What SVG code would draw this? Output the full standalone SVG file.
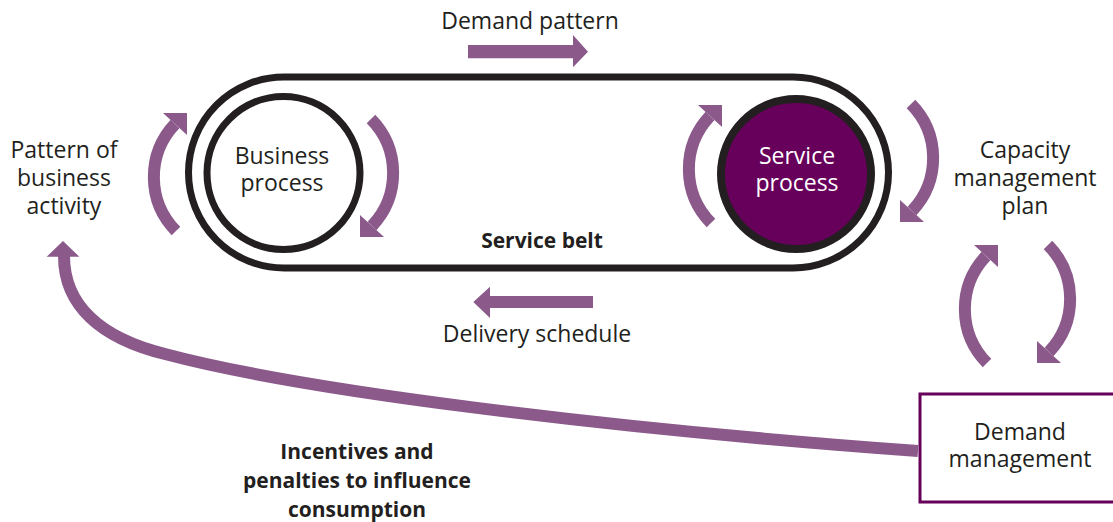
<svg xmlns="http://www.w3.org/2000/svg" xmlns:xlink="http://www.w3.org/1999/xlink" width="1113" height="522" viewBox="0 0 1113 522">
<style>
.t{font-family:"Open Sans","Noto Sans","Liberation Sans",sans-serif;font-size:23px;fill:#231f20;text-anchor:middle}
.b{font-weight:bold;font-size:21px}
.w{fill:#ffffff}
.arc{fill:none;stroke:#8b5a8b;stroke-width:12;stroke-linecap:butt}
.hd{fill:#8b5a8b;stroke:none}
.ring{fill:none;stroke:#231f20}
</style>
<defs>
<g id="curl">
<path class="arc" d="M8,57 A77,77 0 0 1 7,-50"/>
<polygon class="hd" points="-5,-61 19,-61 19,-39"/>
</g>
</defs>
<rect width="1113" height="522" fill="#ffffff"/>

<g id="belt">
<rect class="ring" x="188.5" y="77" width="700" height="191" rx="95.5" ry="95.5" stroke-width="7"/>
<text class="t b" x="542" y="248">Service belt</text>
</g>

<g id="business-process">
<circle class="ring" cx="283.5" cy="173" r="76.5" stroke-width="7"/>
<text class="t" x="282" y="164">Business</text>
<text class="t" x="282" y="191">process</text>
</g>

<g id="service-process">
<circle cx="796" cy="174" r="75" fill="#66005a" stroke="#231f20" stroke-width="8"/>
<text class="t w" x="797" y="164">Service</text>
<text class="t w" x="797" y="191">process</text>
</g>

<g id="demand-management">
<rect x="920" y="394" width="210" height="108" fill="#ffffff" stroke="#66005a" stroke-width="3"/>
<text class="t" x="1020" y="440">Demand</text>
<text class="t" x="1020" y="467">management</text>
</g>

<g id="pattern-of-business-activity">
<text class="t" x="64" y="158">Pattern of</text>
<text class="t" x="64" y="186">business</text>
<text class="t" x="64" y="214">activity</text>
</g>

<g id="capacity-management-plan">
<text class="t" x="1025" y="158">Capacity</text>
<text class="t" x="1025" y="186">management</text>
<text class="t" x="1025" y="214">plan</text>
</g>

<g id="labels">
<text class="t" x="530" y="29">Demand pattern</text>
<text class="t" x="537" y="342">Delivery schedule</text>
<text class="t b" x="357" y="459">Incentives and</text>
<text class="t b" x="357" y="488">penalties to influence</text>
<text class="t b" x="357" y="517">consumption</text>
</g>

<g id="connectors">
<polygon class="hd" points="468,45 573,45 573,35 588,51.7 573,67.3 573,58.3 468,58.3"/>
<polygon class="hd" points="593,296 490,296 490,286.7 473.3,302 490,318 490,308 593,308"/>
<use xlink:href="#curl" transform="translate(168,174)"/>
<use xlink:href="#curl" transform="translate(379,176) rotate(180)"/>
<use xlink:href="#curl" transform="translate(703,166)"/>
<use xlink:href="#curl" transform="translate(919,161) rotate(180)"/>
<use xlink:href="#curl" transform="translate(979,306)"/>
<use xlink:href="#curl" transform="translate(1056,302) rotate(180)"/>
<path class="arc" d="M64,256 C64,305 100,338 165,354 C300,390 600,428 918,451"/>
<polygon class="hd" points="63,241 79.3,256.7 46.7,256.7"/>
</g>
</svg>
